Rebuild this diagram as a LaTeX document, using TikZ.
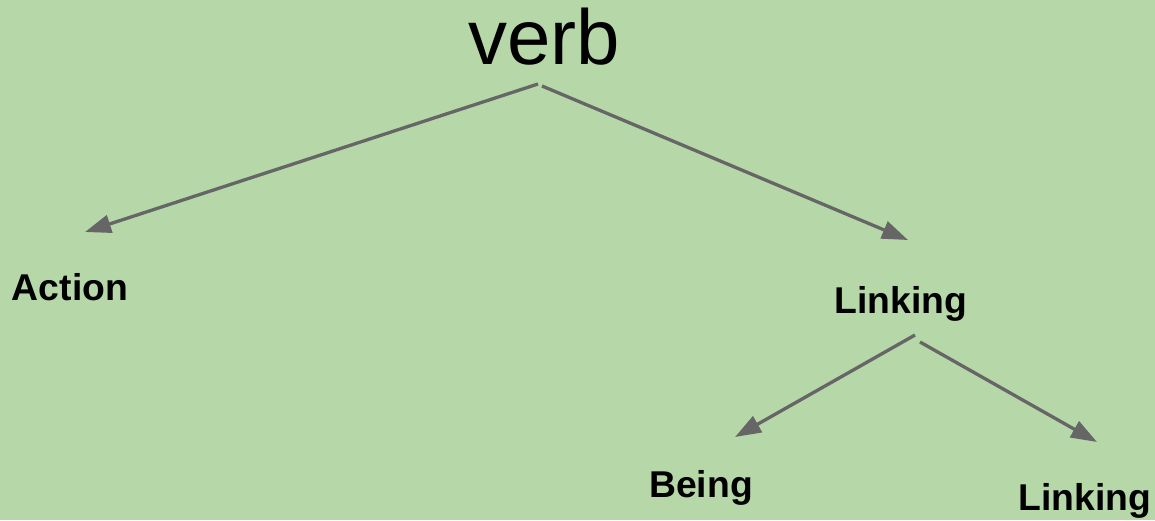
\documentclass[tikz,border=0pt]{standalone}
\usepackage{fontspec}
\setmainfont{Liberation Sans}
\usetikzlibrary{arrows.meta}
\definecolor{bg}{HTML}{B6D7A8}
\definecolor{ln}{HTML}{666666}
\begin{document}
\begin{tikzpicture}[x=1pt,y=-1pt,
  lbl/.style={inner sep=0pt,anchor=base,font=\fontsize{37.3}{44}\selectfont\bfseries},
  conn/.style={draw=ln,line width=3.3pt,-{Triangle[length=26pt,width=18pt]}}]
\fill[bg] (0,0) rectangle (1155,520);
\useasboundingbox (0,0) rectangle (1155,520);
\node[inner sep=0pt,anchor=base,font=\fontsize{78}{90}\selectfont] (verb) at (544,64) {verb};
\node[lbl] (action) at (70,300) {Action};
\node[lbl] (linking) at (901,313) {Linking};
\node[lbl] (being) at (701,497) {Being};
\node[lbl] (linking2) at (1085,510) {Linking};
\coordinate (s1) at (538,84);
\coordinate (t1) at (85,232);
\coordinate (s2) at (542,86);
\coordinate (t2) at (908,240);
\coordinate (s3) at (915,335);
\coordinate (t3) at (735,437);
\coordinate (s4) at (920,342);
\coordinate (t4) at (1097,442);
\draw[conn] (s1) -- (t1);
\draw[conn] (s2) -- (t2);
\draw[conn] (s3) -- (t3);
\draw[conn] (s4) -- (t4);
\end{tikzpicture}
\end{document}
